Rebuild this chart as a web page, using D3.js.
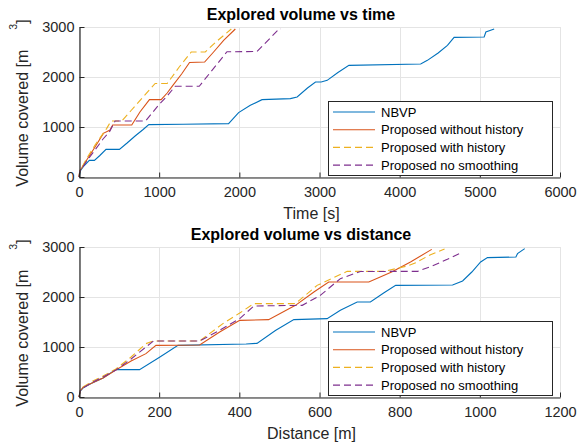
<!DOCTYPE html>
<html>
<head>
<meta charset="utf-8">
<script src="https://cdn.jsdelivr.net/npm/d3@7"></script>
<style>
  html, body { margin: 0; padding: 0; background: #fff; }
  svg { display: block; font-family: "Liberation Sans", Arial, sans-serif; }
</style>
</head>
<body>
<svg id="chart" width="582" height="442"></svg>
<script>
// ---- data ----
const seriesNames = ["NBVP", "Proposed without history", "Proposed with history", "Proposed no smoothing"];
const seriesColors = ["#0072BD", "#D95319", "#EDB120", "#7E2F8E"];
const seriesDashed = [false, false, true, true];

const timeTicks = [0, 1000, 2000, 3000, 4000, 5000, 6000];
const distTicks = [0, 200, 400, 600, 800, 1000, 1200];
const volTicks  = [0, 1000, 2000, 3000];

// volume vs time [s]
const nbvpTime = [[0,0],[20,130],[60,220],[129,333],[192,333],[260,430],[337,553],[504,553],[600,680],
  [700,820],[800,950],[871,1047],[1300,1055],[1866,1067],[1991,1287],[2137,1433],[2283,1547],[2637,1567],
  [2721,1600],[2850,1780],[2950,1900],[3021,1900],[3096,1933],[3230,2090],[3367,2233],[4262,2260],
  [4346,2333],[4480,2480],[4596,2633],[4679,2793],[5054,2800],[5075,2900],[5179,2960]];
const noHistTime = [[0,0],[10,130],[30,170],[100,350],[200,600],[304,873],[387,940],[420,1040],[658,1040],
  [760,1300],[879,1547],[1025,1547],[1100,1680],[1171,1833],[1280,2060],[1379,2290],[1567,2300],
  [1679,2500],[1804,2733],[1950,2960]];
const histTime = [[0,0],[10,120],[100,380],[200,640],[346,973],[400,1120],[533,1120],[650,1330],[800,1600],
  [950,1870],[1100,1870],[1250,2200],[1400,2500],[1575,2500],[1700,2690],[1900,2960]];
const noSmoothTime = [[0,0],[10,110],[100,330],[212,567],[300,760],[379,900],[450,1120],[830,1120],
  [1000,1450],[1100,1620],[1200,1815],[1500,1815],[1846,2505],[2221,2510],[2492,2953],[2520,2960]];

// volume vs distance [m]
const nbvpDist = [[0,0],[3,120],[10,180],[30,270],[60,380],[92,547],[151,547],[200,790],[247,1033],
  [417,1060],[444,1073],[490,1330],[536,1547],[619,1567],[652,1733],[694,1900],[727,1900],[760,2080],
  [790,2233],[932,2240],[957,2320],[980,2500],[1002,2700],[1019,2787],[1090,2800],[1094,2867],[1112,2967]];
const noHistDist = [[0,0],[3,120],[10,190],[30,270],[60,380],[92,540],[130,720],[167,867],[192,1033],
  [301,1040],[351,1300],[401,1533],[473,1547],[540,1833],[586,2100],[623,2300],[723,2300],[780,2500],
  [827,2700],[880,2953]];
const histDist = [[0,0],[3,130],[10,200],[30,300],[60,420],[92,560],[130,800],[167,1067],[186,1120],
  [301,1120],[359,1467],[401,1680],[436,1867],[540,1867],[594,2233],[669,2513],[761,2513],[819,2620],
  [840,2687],[877,2847],[912,2960]];
const noSmoothDist = [[0,0],[3,120],[10,180],[30,280],[60,400],[92,540],[130,760],[167,1000],[186,1120],
  [301,1120],[350,1330],[401,1567],[436,1820],[557,1833],[602,2033],[652,2367],[702,2510],[845,2513],
  [881,2620],[919,2753],[957,2900]];

// ---- layout ----
const plotLeft = 79, plotRight = 560;
const axisColor = "#262626", gridColor = "#e4e4e4";
const fontFam = "'Liberation Sans', Arial, sans-serif";

const svg = d3.select("#chart");

function drawPanel(cfg) {
  const x = d3.scaleLinear().domain(cfg.xDomain).range([plotLeft, plotRight]);
  const y = d3.scaleLinear().domain([0, 3000]).range([cfg.bottom, cfg.top]);
  const g = svg.append("g");

  // grid
  g.append("g").selectAll("line").data(cfg.xTicks).join("line")
    .attr("x1", d => Math.round(x(d)) + 0.5).attr("x2", d => Math.round(x(d)) + 0.5)
    .attr("y1", cfg.top).attr("y2", cfg.bottom)
    .attr("stroke", gridColor);
  g.append("g").selectAll("line").data(volTicks).join("line")
    .attr("x1", plotLeft).attr("x2", plotRight)
    .attr("y1", d => Math.round(y(d)) + 0.5).attr("y2", d => Math.round(y(d)) + 0.5)
    .attr("stroke", gridColor);

  // data lines
  const line = d3.line().x(d => x(d[0])).y(d => y(d[1]));
  cfg.series.forEach((s, i) => {
    g.append("path")
      .datum(s)
      .attr("d", line)
      .attr("fill", "none")
      .attr("stroke", seriesColors[i])
      .attr("stroke-width", 1.1)
      .attr("stroke-dasharray", seriesDashed[i] ? "7,4" : null);
  });

  // axes (MATLAB style: ticks inside, box off)
  const xAxis = d3.axisBottom(x).tickValues(cfg.xTicks).tickFormat(d3.format("d"))
    .tickSizeInner(-5).tickSizeOuter(0).tickPadding(9);
  const yAxis = d3.axisLeft(y).tickValues(volTicks).tickFormat(d3.format("d"))
    .tickSizeInner(-5).tickSizeOuter(0).tickPadding(9);

  const gx = g.append("g")
    .attr("transform", "translate(0," + (cfg.bottom + 0.5) + ")")
    .call(xAxis);
  const gy = g.append("g")
    .attr("transform", "translate(" + (plotLeft + 0.5) + ",0)")
    .call(yAxis);
  [gx, gy].forEach(a => {
    a.select(".domain").attr("stroke", axisColor).attr("stroke-width", 1.2);
    a.selectAll(".tick line").attr("stroke", axisColor);
    a.selectAll(".tick text")
      .attr("fill", axisColor)
      .style("font-size", "14.5px")
      .style("font-family", fontFam);
  });
  gy.selectAll(".tick text").attr("x", -5);

  // title
  svg.append("text")
    .attr("x", 301).attr("y", cfg.top - 7.5)
    .attr("text-anchor", "middle")
    .style("font-size", "16px").style("font-weight", "bold")
    .attr("fill", "#000")
    .text(cfg.title);

  // x label
  svg.append("text")
    .attr("x", 311.5).attr("y", cfg.bottom + 41.5)
    .attr("text-anchor", "middle")
    .style("font-size", "16px")
    .attr("fill", axisColor)
    .text(cfg.xLabel);

  // y label with the odd superscript placement
  const yl = svg.append("text")
    .attr("transform", "translate(28," + ((cfg.top + cfg.bottom) / 2 + 1) + ") rotate(-90)")
    .attr("text-anchor", "middle")
    .style("font-size", "16px")
    .attr("fill", axisColor);
  yl.append("tspan").text("Volume covered [m");
  yl.append("tspan").attr("dx", 20).attr("dy", -11).style("font-size", "10.5px").text("3");
  yl.append("tspan").attr("dy", 11).text("]");

  // legend
  const lg = svg.append("g").attr("transform", "translate(328," + cfg.legendTop + ")");
  lg.append("rect")
    .attr("x", 0.5).attr("y", 0.5).attr("width", 224).attr("height", 74)
    .attr("fill", "#fff").attr("stroke", axisColor).attr("stroke-width", 1);
  seriesNames.forEach((name, i) => {
    const ry = 11 + i * 17.7;
    lg.append("line")
      .attr("x1", 5).attr("x2", 47).attr("y1", ry).attr("y2", ry)
      .attr("stroke", seriesColors[i]).attr("stroke-width", 1.1)
      .attr("stroke-dasharray", seriesDashed[i] ? "7,4" : null);
    lg.append("text")
      .attr("x", 53).attr("y", ry + 4.7)
      .style("font-size", "13px")
      .attr("fill", "#000")
      .text(name);
  });
}

drawPanel({
  top: 27, bottom: 177, xDomain: [0, 6000], xTicks: timeTicks,
  title: "Explored volume vs time", xLabel: "Time [s]", legendTop: 101,
  series: [nbvpTime, noHistTime, histTime, noSmoothTime]
});
drawPanel({
  top: 247, bottom: 397, xDomain: [0, 1200], xTicks: distTicks,
  title: "Explored volume vs distance", xLabel: "Distance [m]", legendTop: 321,
  series: [nbvpDist, noHistDist, histDist, noSmoothDist]
});
</script>
</body>
</html>
